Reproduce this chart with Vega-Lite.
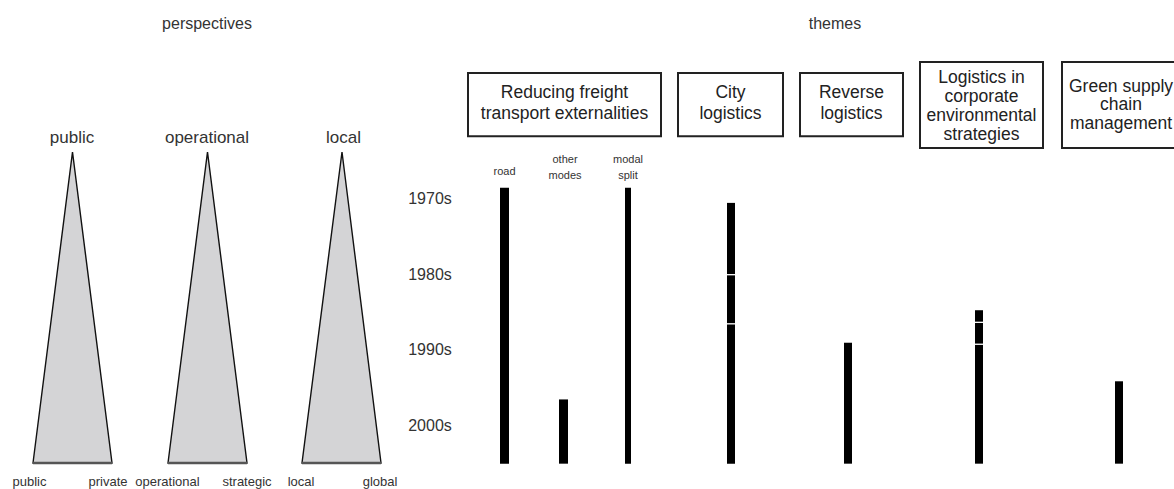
{
  "$schema": "https://vega.github.io/schema/vega-lite/v6.json",
  "width": 1174,
  "height": 489,
  "autosize": {"type": "fit", "contains": "padding"},
  "padding": 0,
  "background": "white",
  "config": {
    "view": {"stroke": null},
    "font": "Liberation Sans",
    "text": {"font": "Liberation Sans", "color": "#222"}
  },
  "datasets": {
    "bars": [
      {"theme": "Reducing freight transport externalities", "item": "road", "col": 504.5, "phase": 1, "start": 1968.5, "end": 2005},
      {"theme": "Reducing freight transport externalities", "item": "other modes", "col": 563.5, "phase": 1, "start": 1996.5, "end": 2005},
      {"theme": "Reducing freight transport externalities", "item": "modal split", "col": 628, "phase": 1, "start": 1968.5, "end": 2005},
      {"theme": "City logistics", "item": "City logistics", "col": 731, "phase": 1, "start": 1970.5, "end": 1980},
      {"theme": "City logistics", "item": "City logistics", "col": 731, "phase": 2, "start": 1980, "end": 1986.5},
      {"theme": "City logistics", "item": "City logistics", "col": 731, "phase": 3, "start": 1986.5, "end": 2005},
      {"theme": "Reverse logistics", "item": "Reverse logistics", "col": 848, "phase": 1, "start": 1989, "end": 2005},
      {"theme": "Logistics in corporate environmental strategies", "item": "Logistics in corporate environmental strategies", "col": 979, "phase": 1, "start": 1984.7, "end": 1986.3},
      {"theme": "Logistics in corporate environmental strategies", "item": "Logistics in corporate environmental strategies", "col": 979, "phase": 2, "start": 1986.3, "end": 1989.2},
      {"theme": "Logistics in corporate environmental strategies", "item": "Logistics in corporate environmental strategies", "col": 979, "phase": 3, "start": 1989.2, "end": 2005},
      {"theme": "Green supply chain management", "item": "Green supply chain management", "col": 1119, "phase": 1, "start": 1994.1, "end": 2005}
    ],
    "decades": [
      {"label": "1970s", "col": 430, "year": 1970},
      {"label": "1980s", "col": 430, "year": 1980},
      {"label": "1990s", "col": 430, "year": 1990},
      {"label": "2000s", "col": 430, "year": 2000}
    ],
    "triangles": [
      {"persp": "public-private", "col": 33, "level": 0},
      {"persp": "public-private", "col": 72.5, "level": 10},
      {"persp": "public-private", "col": 112, "level": 0},
      {"persp": "operational-strategic", "col": 168, "level": 0},
      {"persp": "operational-strategic", "col": 207.5, "level": 10},
      {"persp": "operational-strategic", "col": 247, "level": 0},
      {"persp": "local-global", "col": 302, "level": 0},
      {"persp": "local-global", "col": 342, "level": 10},
      {"persp": "local-global", "col": 381, "level": 0}
    ],
    "boxes": [
      {"theme": "Reducing freight transport externalities", "x1": 468, "x2": 661, "top": 12.54, "bottom": 10.51},
      {"theme": "City logistics", "x1": 678, "x2": 783, "top": 12.54, "bottom": 10.51},
      {"theme": "Reverse logistics", "x1": 800, "x2": 903, "top": 12.54, "bottom": 10.51},
      {"theme": "Logistics in corporate environmental strategies", "x1": 920, "x2": 1043, "top": 12.89, "bottom": 10.13},
      {"theme": "Green supply chain management", "x1": 1062, "x2": 1181, "top": 12.89, "bottom": 10.13}
    ],
    "labels": [
      {"kind": "title", "text": "perspectives", "col": 207, "level": 14.1},
      {"kind": "title", "text": "themes", "col": 835, "level": 14.1},
      {"kind": "apex", "text": "public", "col": 72, "level": 10.45},
      {"kind": "apex", "text": "operational", "col": 207, "level": 10.45},
      {"kind": "apex", "text": "local", "col": 343.5, "level": 10.45},
      {"kind": "end", "text": "public", "col": 29.5, "level": -0.61},
      {"kind": "end", "text": "private", "col": 108, "level": -0.61},
      {"kind": "end", "text": "operational", "col": 167.5, "level": -0.61},
      {"kind": "end", "text": "strategic", "col": 247, "level": -0.61},
      {"kind": "end", "text": "local", "col": 301, "level": -0.61},
      {"kind": "end", "text": "global", "col": 380, "level": -0.61},
      {"kind": "box2", "text": "Reducing freight\ntransport externalities", "col": 564.5, "level": 11.9},
      {"kind": "box2", "text": "City\nlogistics", "col": 730.5, "level": 11.9},
      {"kind": "box2", "text": "Reverse\nlogistics", "col": 851.5, "level": 11.9},
      {"kind": "box3", "text": "Logistics in\ncorporate\nenvironmental\nstrategies", "col": 981.5, "level": 12.37},
      {"kind": "box3", "text": "Green supply\nchain\nmanagement", "col": 1121, "level": 12.1},
      {"kind": "sub", "text": "road", "col": 504.5, "level": 9.36},
      {"kind": "sub", "text": "other\nmodes", "col": 565, "level": 9.74},
      {"kind": "sub", "text": "modal\nsplit", "col": 628, "level": 9.74}
    ]
  },
  "resolve": {"scale": {"y": "independent"}},
  "layer": [
    {
      "data": {"name": "triangles"},
      "mark": {"type": "area", "orient": "vertical", "fill": "#d4d4d6", "stroke": "#111", "strokeWidth": 1.4},
      "encoding": {
        "x": {"field": "col", "type": "quantitative", "scale": {"domain": [0, 1174], "nice": false, "zero": false}, "axis": null},
        "y": {"field": "level", "type": "quantitative", "stack": null, "scale": {"domain": [-0.836, 14.887], "nice": false, "zero": false}, "axis": null},
        "detail": {"field": "persp"}
      }
    },
    {
      "data": {"name": "triangles"},
      "mark": {"type": "rule", "color": "#555", "strokeWidth": 2.5},
      "encoding": {
        "x": {"aggregate": "min", "field": "col", "type": "quantitative", "scale": {"domain": [0, 1174], "nice": false, "zero": false}, "axis": null},
        "x2": {"aggregate": "max", "field": "col"},
        "y": {"aggregate": "min", "field": "level", "type": "quantitative", "scale": {"domain": [-0.836, 14.887], "nice": false, "zero": false}, "axis": null},
        "detail": {"field": "persp"}
      }
    },
    {
      "data": {"name": "boxes"},
      "mark": {"type": "rect", "fill": "white", "stroke": "#222", "strokeWidth": 2, "clip": true},
      "encoding": {
        "x": {"field": "x1", "type": "quantitative", "scale": {"domain": [0, 1174], "nice": false, "zero": false}, "axis": null},
        "x2": {"field": "x2"},
        "y": {"field": "top", "type": "quantitative", "scale": {"domain": [-0.836, 14.887], "nice": false, "zero": false}, "axis": null},
        "y2": {"field": "bottom"}
      }
    },
    {
      "data": {"name": "labels"},
      "transform": [{"filter": "datum.kind === 'title'"}],
      "mark": {"type": "text", "fontSize": 16, "align": "center", "baseline": "middle", "color": "#333"},
      "encoding": {
        "x": {"field": "col", "type": "quantitative", "scale": {"domain": [0, 1174], "nice": false, "zero": false}, "axis": null},
        "y": {"field": "level", "type": "quantitative", "scale": {"domain": [-0.836, 14.887], "nice": false, "zero": false}, "axis": null},
        "text": {"field": "text"}
      }
    },
    {
      "data": {"name": "labels"},
      "transform": [{"filter": "datum.kind === 'apex'"}],
      "mark": {"type": "text", "fontSize": 17, "align": "center", "baseline": "middle", "color": "#333"},
      "encoding": {
        "x": {"field": "col", "type": "quantitative", "scale": {"domain": [0, 1174], "nice": false, "zero": false}, "axis": null},
        "y": {"field": "level", "type": "quantitative", "scale": {"domain": [-0.836, 14.887], "nice": false, "zero": false}, "axis": null},
        "text": {"field": "text"}
      }
    },
    {
      "data": {"name": "labels"},
      "transform": [{"filter": "datum.kind === 'end'"}],
      "mark": {"type": "text", "fontSize": 13, "align": "center", "baseline": "middle", "color": "#333"},
      "encoding": {
        "x": {"field": "col", "type": "quantitative", "scale": {"domain": [0, 1174], "nice": false, "zero": false}, "axis": null},
        "y": {"field": "level", "type": "quantitative", "scale": {"domain": [-0.836, 14.887], "nice": false, "zero": false}, "axis": null},
        "text": {"field": "text"}
      }
    },
    {
      "data": {"name": "labels"},
      "transform": [{"filter": "datum.kind === 'box2'"}],
      "mark": {"type": "text", "fontSize": 17.5, "align": "center", "baseline": "middle", "lineBreak": "\n", "lineHeight": 21.5, "color": "#222"},
      "encoding": {
        "x": {"field": "col", "type": "quantitative", "scale": {"domain": [0, 1174], "nice": false, "zero": false}, "axis": null},
        "y": {"field": "level", "type": "quantitative", "scale": {"domain": [-0.836, 14.887], "nice": false, "zero": false}, "axis": null},
        "text": {"field": "text"}
      }
    },
    {
      "data": {"name": "labels"},
      "transform": [{"filter": "datum.kind === 'box3'"}],
      "mark": {"type": "text", "fontSize": 17.5, "align": "center", "baseline": "middle", "lineBreak": "\n", "lineHeight": 18.8, "color": "#222", "clip": true},
      "encoding": {
        "x": {"field": "col", "type": "quantitative", "scale": {"domain": [0, 1174], "nice": false, "zero": false}, "axis": null},
        "y": {"field": "level", "type": "quantitative", "scale": {"domain": [-0.836, 14.887], "nice": false, "zero": false}, "axis": null},
        "text": {"field": "text"}
      }
    },
    {
      "data": {"name": "labels"},
      "transform": [{"filter": "datum.kind === 'sub'"}],
      "mark": {"type": "text", "fontSize": 11, "align": "center", "baseline": "middle", "lineBreak": "\n", "lineHeight": 16, "color": "#333"},
      "encoding": {
        "x": {"field": "col", "type": "quantitative", "scale": {"domain": [0, 1174], "nice": false, "zero": false}, "axis": null},
        "y": {"field": "level", "type": "quantitative", "scale": {"domain": [-0.836, 14.887], "nice": false, "zero": false}, "axis": null},
        "text": {"field": "text"}
      }
    },
    {
      "data": {"name": "decades"},
      "mark": {"type": "text", "fontSize": 16, "align": "center", "baseline": "middle", "color": "#333"},
      "encoding": {
        "x": {"field": "col", "type": "quantitative", "scale": {"domain": [0, 1174], "nice": false, "zero": false}, "axis": null},
        "y": {"field": "year", "type": "quantitative", "scale": {"domain": [1943.66, 2008.35], "reverse": true, "nice": false, "zero": false}, "axis": null},
        "text": {"field": "label"}
      }
    },
    {
      "data": {"name": "bars"},
      "mark": {"type": "rule", "color": "black", "strokeCap": "butt"},
      "encoding": {
        "x": {"field": "col", "type": "quantitative", "scale": {"domain": [0, 1174], "nice": false, "zero": false}, "axis": null},
        "y": {"field": "start", "type": "quantitative", "scale": {"domain": [1943.66, 2008.35], "reverse": true, "nice": false, "zero": false}, "axis": null},
        "y2": {"field": "end"},
        "strokeWidth": {
          "condition": [
            {"test": "datum.item === 'modal split'", "value": 6},
            {"test": "datum.item === 'road' || datum.item === 'other modes'", "value": 9}
          ],
          "value": 8
        }
      }
    },
    {
      "data": {"name": "bars"},
      "transform": [{"filter": "datum.phase > 1"}],
      "mark": {"type": "tick", "orient": "horizontal", "color": "white", "thickness": 1.3, "size": 12, "opacity": 1},
      "encoding": {
        "x": {"field": "col", "type": "quantitative", "scale": {"domain": [0, 1174], "nice": false, "zero": false}, "axis": null},
        "y": {"field": "start", "type": "quantitative", "scale": {"domain": [1943.66, 2008.35], "reverse": true, "nice": false, "zero": false}, "axis": null}
      }
    }
  ]
}
